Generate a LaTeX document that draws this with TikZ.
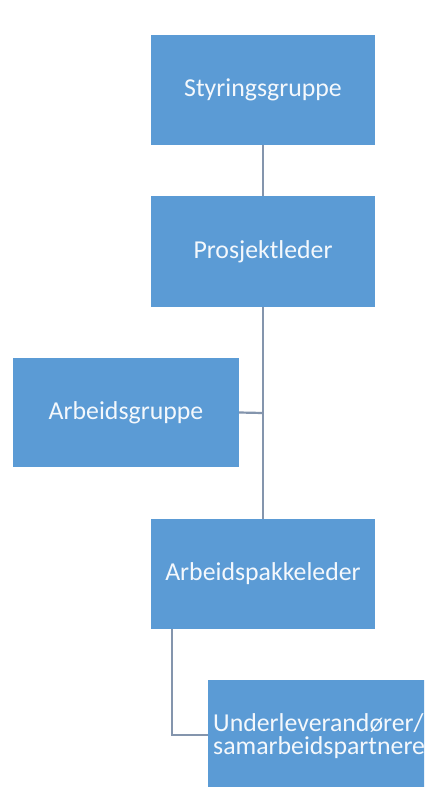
\documentclass[tikz,border=0pt]{standalone}
\usepackage{fontspec}
\setmainfont{Carlito}
\definecolor{boxblue}{HTML}{5B9BD5}
\definecolor{linegray}{HTML}{8495AD}
\definecolor{txtwhite}{HTML}{F4F8FC}
\begin{document}
\begin{tikzpicture}[x=1pt,y=-1pt,
  orgbox/.style={fill=boxblue,draw=none,text=txtwhite,inner sep=0pt,font=\fontsize{25.8}{25.8}\selectfont},
  conn/.style={draw=linegray,line width=2.2pt}]
\useasboundingbox[fill=white] (0,0) rectangle (424,787);
\begin{scope}
\clip (0,0) rectangle (424,787);
\node[orgbox,minimum width=224pt,minimum height=110pt] (s) at (263,90) {Styringsgruppe};
\node[orgbox,minimum width=224pt,minimum height=111pt] (p) at (263,251.5) {Prosjektleder};
\node[orgbox,minimum width=226pt,minimum height=109pt] (g) at (126,412.5) {Arbeidsgruppe};
\node[orgbox,minimum width=224pt,minimum height=110pt] (a) at (263,574) {Arbeidspakkeleder};
\node[orgbox,minimum width=260pt,minimum height=140pt,anchor=north west] (u) at (208,680) {};
\node[text=txtwhite,inner sep=0pt,anchor=west,align=left,font=\fontsize{25.8}{23.5}\selectfont] (ut) at (213,736) {Underleverandører/\\samarbeidspartnere};
\coordinate (j) at (263,413);
\coordinate (k) at (172,735);
\draw[conn] (s.south) -- (p.north);
\draw[conn] (p.south) -- (a.north);
\draw[conn] (g.east) -- (j);
\draw[conn] (a.south -| k) -- (k) -- (k -| u.west);
\end{scope}
\end{tikzpicture}
\end{document}
